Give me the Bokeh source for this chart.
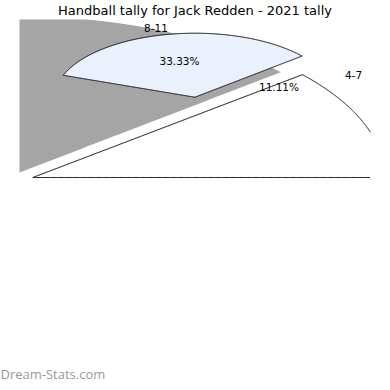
import numpy as np
from bokeh.plotting import figure
from bokeh.models import Range1d, ColumnDataSource
from bokeh.core.properties import value
from bokeh.embed import file_html
from bokeh.resources import INLINE

# ---- data ----
title_text = "Handball tally for Jack Redden - 2021 tally"
slice_labels = ["4-7", "8-11"]
slice_percent = [11.11, 33.33]
watermark_text = "Dream-Stats.com"

# ---- layout (canvas pixel coordinates, y pointing down) ----
W = H = 382
CLIP = (19, 370, 19, 382)          # pie drawing area
slice_centers = [(32.3, 177.0), (194.3, 96.7)]
slice_radii = [(352, 160), (140, 64)]
slice_fill = ["#ffffff", "#eaf0fc"]
shadow_of = 1
shadow_center = (19, 172)
shadow_radii = (341, 156)
shadow_color = "#a5a5a6"
pct_label_pos = [(278.5, 86), (179, 60)]
name_label_pos = [(353, 74), (155.5, 27.5)]
title_pos = (194.5, 10)
watermark_pos = (0, 373)
FONT = "DejaVu Sans"


def sector_outline(center, radii, a0, a1):
    cx, cy = center
    t = np.radians(np.linspace(a0, a1, 600))
    ax = cx + radii[0] * np.cos(t)
    ay = cy - radii[1] * np.sin(t)
    e1x = np.linspace(cx, ax[0], 400)
    e1y = np.linspace(cy, ay[0], 400)
    e2x = np.linspace(ax[-1], cx, 400)
    e2y = np.linspace(ay[-1], cy, 400)
    return np.concatenate([e1x, ax, e2x]), np.concatenate([e1y, ay, e2y])


def clip_polygon(xs, ys, rect):
    x0, x1, y0, y1 = rect
    pts = list(zip(xs, ys))
    edges = [
        (lambda p: p[0] >= x0, lambda a, b: (x0, a[1] + (b[1] - a[1]) * (x0 - a[0]) / (b[0] - a[0]))),
        (lambda p: p[0] <= x1, lambda a, b: (x1, a[1] + (b[1] - a[1]) * (x1 - a[0]) / (b[0] - a[0]))),
        (lambda p: p[1] >= y0, lambda a, b: (a[0] + (b[0] - a[0]) * (y0 - a[1]) / (b[1] - a[1]), y0)),
        (lambda p: p[1] <= y1, lambda a, b: (a[0] + (b[0] - a[0]) * (y1 - a[1]) / (b[1] - a[1]), y1)),
    ]
    for inside, inter in edges:
        out = []
        n = len(pts)
        for i in range(n):
            cur, prev = pts[i], pts[i - 1]
            if inside(cur):
                if not inside(prev):
                    out.append(inter(prev, cur))
                out.append(cur)
            elif inside(prev):
                out.append(inter(prev, cur))
        pts = out
        if not pts:
            break
    return [q[0] for q in pts], [q[1] for q in pts]


def clip_line(xs, ys, rect):
    x0, x1, y0, y1 = rect
    m = (xs >= x0) & (xs <= x1) & (ys >= y0) & (ys <= y1)
    return np.where(m, xs, np.nan), np.where(m, ys, np.nan)


angles = np.concatenate([[0.0], np.cumsum(slice_percent) * 3.6])

p = figure(width=W, height=H, title=None,
           x_range=Range1d(0, W), y_range=Range1d(H, 0),
           output_backend="svg", toolbar_location=None,
           x_axis_location=None, y_axis_location=None,
           min_border=0)
p.grid.visible = False
p.outline_line_color = None
p.background_fill_color = "white"
p.border_fill_color = "white"

# shadow of the 8-11 slice
sx, sy = sector_outline(shadow_center, shadow_radii, angles[shadow_of], angles[shadow_of + 1])
px, py = clip_polygon(sx, sy, CLIP)
p.patch(px, py, fill_color=shadow_color, line_color=None)

# slices
for i in range(len(slice_labels)):
    xs, ys = sector_outline(slice_centers[i], slice_radii[i], angles[i], angles[i + 1])
    fx, fy = clip_polygon(xs, ys, CLIP)
    p.patch(fx, fy, fill_color=slice_fill[i], line_color=None)
    lx, ly = clip_line(xs, ys, CLIP)
    p.line(lx, ly, line_color="black", line_width=1)

pct_text = ["%.2f%%" % v for v in slice_percent]
src = ColumnDataSource(dict(
    x=[q[0] for q in pct_label_pos] + [q[0] for q in name_label_pos],
    y=[q[1] for q in pct_label_pos] + [q[1] for q in name_label_pos],
    t=pct_text + slice_labels,
))
p.text(x="x", y="y", text="t", source=src, text_font=value(FONT),
       text_font_size="10.5px", text_align="center", text_baseline="middle",
       text_color="black")

p.text(x=[title_pos[0]], y=[title_pos[1]], text=[title_text],
       text_font=value(FONT), text_font_size="13px", text_align="center",
       text_baseline="middle", text_color="black")
p.text(x=[watermark_pos[0]], y=[watermark_pos[1]], text=[watermark_text],
       text_font=value("Open Sans"), text_font_size="13px", text_align="left",
       text_baseline="middle", text_color="#999999")

open("out.html", "w").write(file_html(p, INLINE))
